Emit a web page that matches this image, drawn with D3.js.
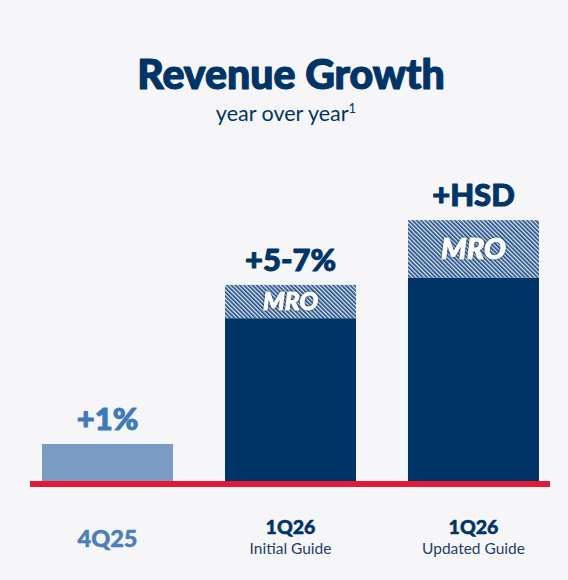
<!DOCTYPE html>
<html>
<head>
<meta charset="utf-8">
<script src="https://cdn.jsdelivr.net/npm/d3@7/dist/d3.min.js"></script>
<style>
  html, body { margin: 0; padding: 0; background: #f6f6f9; }
  svg { display: block; font-family: Lato, "Noto Sans", sans-serif; }
</style>
</head>
<body>
<script>
// chart data
const categories = ["4Q25", "1Q26", "1Q26"];
const subLabels = ["", "Initial Guide", "Updated Guide"];
const baseValues = [1, 4.4, 5.5];
const mroValues = [0, 0.9, 1.55];
const valueLabels = ["+1%", "+5-7%", "+HSD"];
const mroLabels = ["", "MRO", "MRO"];

const width = 568;
const height = 580;
const navy = "#003466";
const lightBlue = "#7b9cc2";
const steel = "#3d7aba";
const red = "#e11b35";

const svg = d3.select("body")
  .append("svg")
  .attr("width", width)
  .attr("height", height);

svg.append("rect").attr("width", width).attr("height", height).attr("fill", "#f6f6f9");

// hatch for the MRO part
const pat = svg.append("defs")
  .append("pattern")
  .attr("id", "hatch")
  .attr("patternUnits", "userSpaceOnUse")
  .attr("width", 3)
  .attr("height", 3)
  .attr("patternTransform", "rotate(-45)");
pat.append("rect").attr("width", 3).attr("height", 3).attr("fill", "#e3eaf3");
pat.append("rect").attr("width", 1.7).attr("height", 3).attr("fill", "#1f4e86");

const idx = d3.range(categories.length);

const xscale = d3.scaleBand()
  .domain(idx)
  .range([42, 539])
  .paddingInner(0.284)
  .paddingOuter(0);

const yscale = d3.scaleLinear()
  .domain([0, 7])
  .range([481, 222]);

const bw = xscale.bandwidth();

// heavier look for the black labels
function heavy(sel, w) {
  sel.attr("stroke", function () { return d3.select(this).attr("fill"); })
    .attr("stroke-width", w)
    .attr("stroke-linejoin", "round");
}

// title
svg.append("text")
  .attr("x", width / 2 + 7)
  .attr("y", 89)
  .attr("text-anchor", "middle")
  .attr("fill", navy)
  .attr("font-size", 41)
  .attr("font-weight", 900)
  .text("Revenue Growth")
  .call(heavy, 1.2);

const sub = svg.append("text")
  .attr("x", width / 2 + 2)
  .attr("y", 121)
  .attr("text-anchor", "middle")
  .attr("fill", navy)
  .attr("font-size", 21.5)
  .attr("font-weight", 400)
  .text("year over year");
sub.append("tspan")
  .attr("font-size", 13)
  .attr("dy", -8)
  .text("1");

// base bars
svg.selectAll("rect.base")
  .data(idx)
  .join("rect")
  .attr("class", "base")
  .attr("x", i => xscale(i))
  .attr("width", bw)
  .attr("y", i => yscale(baseValues[i]))
  .attr("height", i => yscale(0) - yscale(baseValues[i]))
  .attr("fill", i => i === 0 ? lightBlue : navy);

// MRO hatched segment
const mroIdx = idx.filter(i => mroValues[i] > 0);
svg.selectAll("rect.mro")
  .data(mroIdx)
  .join("rect")
  .attr("class", "mro")
  .attr("x", i => xscale(i))
  .attr("width", bw)
  .attr("y", i => yscale(baseValues[i] + mroValues[i]))
  .attr("height", i => yscale(baseValues[i]) - yscale(baseValues[i] + mroValues[i]))
  .attr("fill", "url(#hatch)");

svg.selectAll("text.mro")
  .data(mroIdx)
  .join("text")
  .attr("class", "mro")
  .each(function (i) {
    const top = yscale(baseValues[i] + mroValues[i]);
    const h = yscale(baseValues[i]) - top;
    const fs = Math.min(29, h * 0.74);
    d3.select(this)
      .attr("x", xscale(i) + bw / 2)
      .attr("y", top + h / 2 + fs * 0.36)
      .attr("font-size", fs);
  })
  .attr("text-anchor", "middle")
  .attr("font-weight", 900)
  .attr("font-style", "italic")
  .attr("fill", "#fff")
  .attr("stroke", "#fff")
  .attr("stroke-width", 1)
  .attr("stroke-linejoin", "round")
  .style("filter", "drop-shadow(0 0 1px #0b2f5c)")
  .text(i => mroLabels[i]);

// value labels above bars
svg.selectAll("text.value")
  .data(idx)
  .join("text")
  .attr("class", "value")
  .attr("x", i => xscale(i) + bw / 2)
  .attr("y", i => yscale(baseValues[i] + mroValues[i]) - 14)
  .attr("text-anchor", "middle")
  .attr("font-size", 31)
  .attr("font-weight", 900)
  .attr("fill", i => i === 0 ? steel : navy)
  .text(i => valueLabels[i])
  .call(heavy, 1);

// red baseline
svg.append("rect")
  .attr("x", 30)
  .attr("y", yscale(0))
  .attr("width", 520)
  .attr("height", 6)
  .attr("fill", red);

// category labels
svg.selectAll("text.cat")
  .data(idx)
  .join("text")
  .attr("class", "cat")
  .attr("x", i => xscale(i) + bw / 2)
  .attr("y", i => subLabels[i] ? 534 : 547)
  .attr("text-anchor", "middle")
  .attr("font-size", i => subLabels[i] ? 19.5 : 23.5)
  .attr("font-weight", 900)
  .attr("fill", i => subLabels[i] ? navy : "#4a80b6")
  .text(i => categories[i])
  .call(heavy, 0.5);

svg.selectAll("text.subcat")
  .data(idx.filter(i => subLabels[i]))
  .join("text")
  .attr("class", "subcat")
  .attr("x", i => xscale(i) + bw / 2)
  .attr("y", 554)
  .attr("text-anchor", "middle")
  .attr("font-size", 15.5)
  .attr("font-weight", 400)
  .attr("fill", "#1f3d68")
  .text(i => subLabels[i]);
</script>
</body>
</html>
